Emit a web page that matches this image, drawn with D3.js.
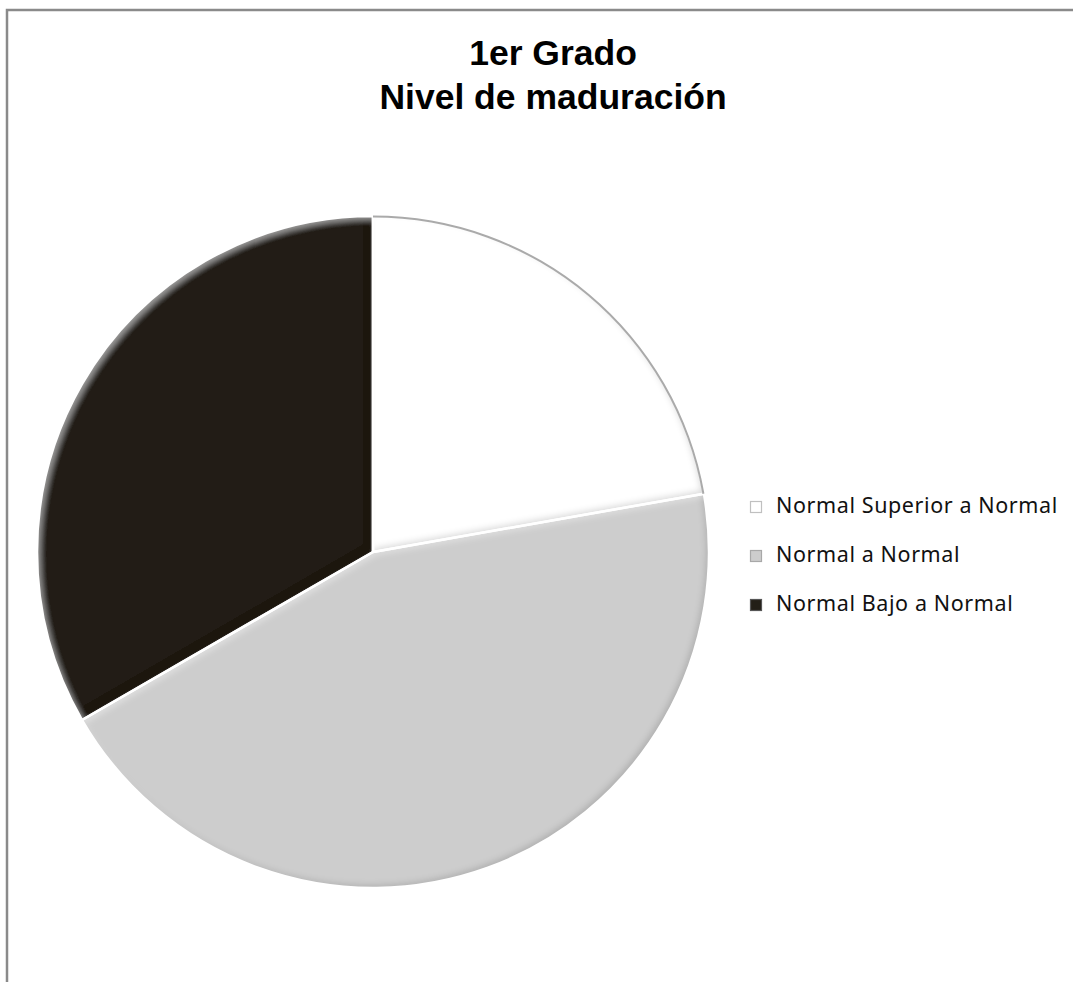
<!DOCTYPE html>
<html><head><meta charset="utf-8">
<script src="https://cdn.jsdelivr.net/npm/d3@7"></script>
<style>body{margin:0;background:#fff}svg{display:block}</style>
</head><body>
<script>
const categories = ["Normal Superior a Normal", "Normal a Normal", "Normal Bajo a Normal"];
const values = [2, 4, 3];
const colors = ["#ffffff", "#cdcdcd", "#231f17"];
const titleLines = ["1er Grado", "Nivel de maduración"];

const W = 1073, H = 982;
const svg = d3.select("body").append("svg").attr("width", W).attr("height", H);
const defs = svg.append("defs");

const f = defs.append("filter").attr("id","bevel").attr("x","-10%").attr("y","-10%").attr("width","120%").attr("height","120%");
f.append("feGaussianBlur").attr("in","SourceAlpha").attr("stdDeviation",3).attr("result","b");
f.append("feOffset").attr("in","b").attr("dx",-3).attr("dy",-3).attr("result","o1");
f.append("feComposite").attr("in","SourceAlpha").attr("in2","o1").attr("operator","arithmetic").attr("k2",1).attr("k3",-1).attr("result","e1");
f.append("feFlood").attr("flood-color","#000").attr("flood-opacity",0.3).attr("result","fd");
f.append("feComposite").attr("in","fd").attr("in2","e1").attr("operator","in").attr("result","dark");
f.append("feOffset").attr("in","b").attr("dx",3).attr("dy",3).attr("result","o2");
f.append("feComposite").attr("in","SourceAlpha").attr("in2","o2").attr("operator","arithmetic").attr("k2",1).attr("k3",-1).attr("result","e2");
f.append("feFlood").attr("flood-color","#fff").attr("flood-opacity",0.35).attr("result","fl");
f.append("feComposite").attr("in","fl").attr("in2","e2").attr("operator","in").attr("result","light");
const m = f.append("feMerge");
m.append("feMergeNode").attr("in","SourceGraphic");
m.append("feMergeNode").attr("in","dark");
m.append("feMergeNode").attr("in","light");

// frame
svg.append("path").attr("d", `M7,${H} L7,10 L${W},10`).attr("fill","none").attr("stroke","#8a8a8a").attr("stroke-width",2.5);

// title
const title = svg.append("text").attr("x", 553).attr("y", 65).attr("text-anchor","middle")
  .attr("font-family","Liberation Sans, Arial, sans-serif").attr("font-weight","bold").attr("font-size",35.5).attr("fill","#000");
titleLines.forEach((t,i)=> title.append("tspan").attr("x",553).attr("dy", i===0?0:44).text(t));

// pie
const cx = 373, cy = 552, R = 336;
const pie = d3.pie().sort(null).value(d=>d)(values);
const arc = d3.arc().innerRadius(0).outerRadius(R);
const g = svg.append("g").attr("transform",`translate(${cx},${cy})`);
g.selectAll("path").data(pie).enter().append("path")
  .attr("d", arc).attr("fill",(d,i)=>colors[i])
  .attr("filter","url(#bevel)");
g.selectAll("path.sep").data(pie).enter().append("path").attr("class","sep")
  .attr("d", arc).attr("fill","none").attr("stroke","#fff").attr("stroke-width",2.5).attr("stroke-linejoin","round");
// outer rim of white slice
g.append("path").attr("d", d3.arc().innerRadius(R-1.5).outerRadius(R+0.5)(pie[0])).attr("fill","#aaaaaa");

// legend
const lg = svg.append("g").attr("transform","translate(750,0)");
const rows = lg.selectAll("g").data(categories).enter().append("g")
  .attr("transform",(d,i)=>`translate(0,${513 + i*49})`);
rows.append("rect").attr("x",0.5).attr("y",-11.5).attr("width",11).attr("height",11)
  .attr("fill",(d,i)=>colors[i]).attr("stroke",(d,i)=> i===0?"#c0c0c0":(i===1?"#a8a8a8":"#555")).attr("stroke-width",1.2);
rows.append("text").attr("x",26).attr("y",0)
  .attr("font-family","Noto Sans, Open Sans, sans-serif").attr("font-size",21.5).attr("letter-spacing",0.6).attr("fill","#111").text(d=>d);
</script>
</body></html>
